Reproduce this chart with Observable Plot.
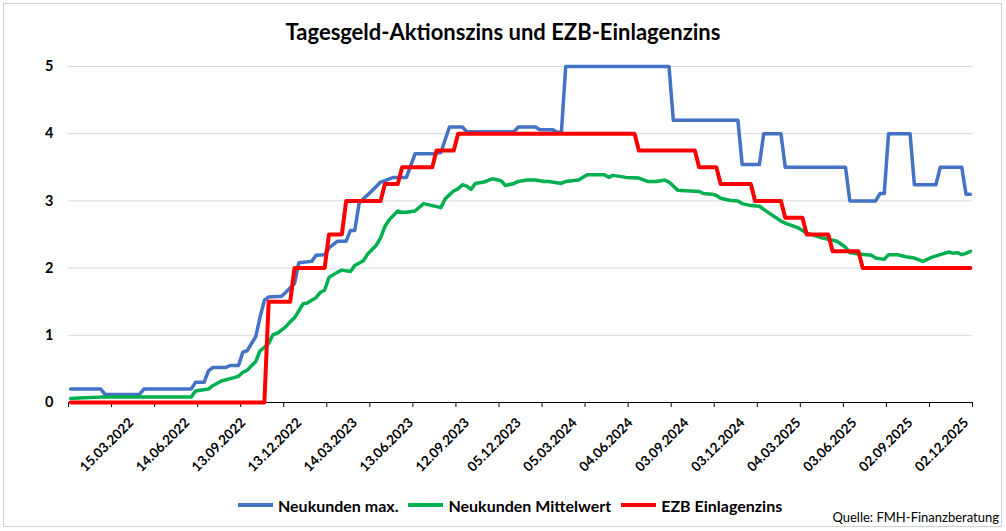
<!DOCTYPE html>
<html>
<head>
<meta charset="utf-8">
<script src="https://cdn.jsdelivr.net/npm/d3@7"></script>
<script src="https://cdn.jsdelivr.net/npm/@observablehq/plot@0.6"></script>
<style>
  html, body { margin: 0; padding: 0; background: #fff; }
  #frame { position: relative; width: 1006px; height: 531px; overflow: hidden; font-family: Lato, "Open Sans", sans-serif; color: #000; }
  #border { position: absolute; left: 3px; top: 3px; width: 999px; height: 524px; border: 1px solid #d0d0d0; box-sizing: border-box; }
  #title { position: absolute; left: 0; top: 16px; width: 1006px; text-align: center; font-size: 22px; font-weight: bold; line-height: 32px; }
  #chart { position: absolute; left: 0; top: 50px; }
  #legend { position: absolute; left: 238px; top: 494px; height: 22px; display: flex; align-items: center; font-size: 16px; font-weight: bold; }
  .item { display: flex; align-items: center; margin-right: 10px; }
  .sw { width: 35px; height: 4px; margin-right: 5px; }
  #caption { position: absolute; right: 7px; top: 508px; font-size: 13px; line-height: 18px; }
</style>
</head>
<body>
<div id="frame">
  <div id="border"></div>
  <div id="title">Tagesgeld-Aktionszins und EZB-Einlagenzins</div>
  <div id="chart"></div>
  <div id="legend"></div>
  <div id="caption">Quelle: FMH-Finanzberatung</div>
</div>
<script>
// ---- data ----
const seriesNames = ["Neukunden max.", "Neukunden Mittelwert", "EZB Einlagenzins"];
const seriesColors = ["#4472C4", "#00B050", "#FF0000"];

const tickLabels = ["15.03.2022","14.06.2022","13.09.2022","13.12.2022","14.03.2023","13.06.2023",
  "12.09.2023","05.12.2023","05.03.2024","04.06.2024","03.09.2024","03.12.2024","04.03.2025",
  "03.06.2025","02.09.2025","02.12.2025"];

const yTicks = [0, 1, 2, 3, 4, 5];

const neukundenMax = [
  ["2021-11-30",0.20],["2022-01-18",0.20],["2022-01-25",0.12],["2022-03-22",0.12],["2022-03-29",0.20],
  ["2022-06-14",0.20],["2022-06-21",0.30],["2022-07-05",0.30],["2022-07-12",0.47],["2022-07-19",0.52],
  ["2022-08-09",0.52],["2022-08-16",0.55],["2022-08-30",0.55],["2022-09-06",0.75],["2022-09-13",0.77],
  ["2022-09-27",0.98],["2022-10-04",1.27],["2022-10-11",1.52],["2022-10-18",1.57],["2022-11-08",1.58],
  ["2022-11-15",1.64],["2022-11-29",1.77],["2022-12-06",2.08],["2022-12-27",2.10],["2023-01-03",2.19],
  ["2023-01-17",2.20],["2023-01-24",2.30],["2023-02-07",2.40],["2023-02-21",2.40],["2023-02-28",2.56],
  ["2023-03-07",2.56],["2023-03-14",2.96],["2023-03-21",3.03],["2023-04-04",3.15],["2023-04-18",3.28],
  ["2023-04-25",3.30],["2023-05-09",3.35],["2023-05-30",3.35],["2023-06-13",3.70],["2023-07-11",3.70],
  ["2023-07-25",3.72],["2023-08-08",4.10],["2023-08-29",4.10],["2023-09-05",4.03],["2023-11-21",4.03],
  ["2023-11-28",4.10],["2023-12-26",4.10],["2024-01-02",4.06],["2024-01-23",4.06],["2024-01-30",4.02],
  ["2024-02-06",4.02],["2024-02-13",5.00],["2024-07-30",5.00],["2024-08-06",4.20],["2024-11-19",4.20],
  ["2024-11-26",3.54],["2024-12-24",3.54],["2024-12-31",4.00],["2025-01-28",4.00],["2025-02-04",3.50],
  ["2025-05-13",3.50],["2025-05-20",3.00],["2025-07-01",3.00],["2025-07-08",3.11],["2025-07-15",3.11],
  ["2025-07-22",4.00],["2025-08-26",4.00],["2025-09-02",3.24],["2025-10-07",3.24],["2025-10-14",3.50],
  ["2025-11-18",3.50],["2025-11-25",3.10],["2025-12-02",3.10]
];

const neukundenMittelwert = [
  ["2021-11-30",0.06],["2021-12-21",0.07],["2022-01-18",0.08],["2022-06-14",0.08],["2022-06-21",0.17],
  ["2022-07-12",0.20],["2022-07-19",0.25],["2022-08-02",0.32],["2022-08-23",0.37],["2022-08-30",0.39],
  ["2022-09-06",0.45],["2022-09-13",0.48],["2022-09-27",0.61],["2022-10-04",0.77],["2022-10-11",0.82],
  ["2022-10-18",0.88],["2022-10-25",1.01],["2022-11-01",1.03],["2022-11-15",1.13],["2022-11-22",1.20],
  ["2022-11-29",1.26],["2022-12-13",1.47],["2022-12-20",1.48],["2022-12-27",1.52],["2023-01-03",1.56],
  ["2023-01-10",1.64],["2023-01-17",1.67],["2023-01-24",1.86],["2023-02-07",1.94],["2023-02-14",1.97],
  ["2023-02-28",1.95],["2023-03-07",2.04],["2023-03-21",2.11],["2023-03-28",2.21],["2023-04-11",2.34],
  ["2023-04-18",2.45],["2023-04-25",2.62],["2023-05-02",2.72],["2023-05-16",2.85],["2023-05-23",2.83],
  ["2023-05-30",2.83],["2023-06-13",2.85],["2023-06-27",2.96],["2023-07-11",2.93],["2023-07-25",2.90],
  ["2023-08-01",3.03],["2023-08-15",3.15],["2023-08-22",3.18],["2023-08-29",3.24],["2023-09-05",3.22],
  ["2023-09-12",3.17],["2023-09-19",3.26],["2023-10-03",3.28],["2023-10-17",3.33],["2023-10-31",3.30],
  ["2023-11-07",3.23],["2023-11-21",3.26],["2023-11-28",3.29],["2023-12-12",3.31],["2023-12-26",3.31],
  ["2024-01-09",3.29],["2024-01-16",3.29],["2024-02-06",3.26],["2024-02-13",3.29],["2024-03-05",3.31],
  ["2024-03-19",3.39],["2024-04-16",3.39],["2024-04-23",3.35],["2024-04-30",3.38],["2024-05-21",3.35],
  ["2024-06-11",3.34],["2024-06-25",3.29],["2024-07-09",3.29],["2024-07-23",3.31],["2024-07-30",3.28],
  ["2024-08-13",3.16],["2024-08-27",3.15],["2024-09-17",3.14],["2024-09-24",3.11],["2024-10-08",3.10],
  ["2024-10-15",3.08],["2024-10-22",3.04],["2024-11-05",3.01],["2024-11-19",3.00],["2024-11-26",2.96],
  ["2024-12-10",2.93],["2024-12-24",2.92],["2025-01-07",2.83],["2025-01-28",2.70],["2025-02-04",2.67],
  ["2025-02-25",2.60],["2025-03-11",2.52],["2025-04-01",2.46],["2025-04-15",2.43],["2025-04-29",2.40],
  ["2025-05-13",2.31],["2025-05-20",2.23],["2025-06-03",2.21],["2025-06-24",2.19],["2025-07-01",2.15],
  ["2025-07-15",2.13],["2025-07-22",2.20],["2025-08-05",2.20],["2025-08-19",2.17],["2025-09-02",2.15],
  ["2025-09-16",2.10],["2025-09-30",2.16],["2025-10-14",2.20],["2025-10-28",2.24],["2025-11-04",2.22],
  ["2025-11-11",2.23],["2025-11-18",2.20],["2025-11-25",2.22],["2025-12-02",2.25]
];

const ezbEinlagenzins = [
  ["2021-11-30",0.00],["2022-10-11",0.00],["2022-10-18",1.50],["2022-11-22",1.50],["2022-11-29",2.00],
  ["2023-01-17",2.00],["2023-01-24",2.50],["2023-02-14",2.50],["2023-02-21",3.00],["2023-04-18",3.00],
  ["2023-04-25",3.25],["2023-05-16",3.25],["2023-05-23",3.50],["2023-07-11",3.50],["2023-07-18",3.75],
  ["2023-08-15",3.75],["2023-08-22",4.00],["2024-06-04",4.00],["2024-06-11",3.75],["2024-09-10",3.75],
  ["2024-09-17",3.50],["2024-10-15",3.50],["2024-10-22",3.25],["2024-12-10",3.25],["2024-12-17",3.00],
  ["2025-01-28",3.00],["2025-02-04",2.75],["2025-03-04",2.75],["2025-03-11",2.50],["2025-04-15",2.50],
  ["2025-04-22",2.25],["2025-06-03",2.25],["2025-06-10",2.00],["2025-12-02",2.00]
];

// ---- build ----
const toRows = (arr) => arr.map(([d, v]) => ({date: new Date(d), value: v}));
const parseDE = (s) => { const [d, m, y] = s.split(".").map(Number); return new Date(Date.UTC(y, m - 1, d)); };
const labelDates = tickLabels.map(parseDE);

const xStart = new Date(Date.UTC(2021, 10, 26, 12));
const xEnd = new Date(Date.UTC(2025, 11, 5, 12));
const tickMarks = d3.range(22).map(k => new Date(+xStart + k * 70 * 864e5));
const fmtDE = d3.utcFormat("%d.%m.%Y");

const chart = Plot.plot({
  width: 1006,
  height: 440,
  marginLeft: 68,
  marginRight: 34,
  marginTop: 16,
  marginBottom: 88,
  style: {fontFamily: "Lato, 'Open Sans', sans-serif", color: "#000", background: "transparent"},
  x: {type: "utc", domain: [xStart, xEnd]},
  y: {domain: [0, 5]},
  marks: [
    Plot.gridY(yTicks.filter(t => t > 0), {stroke: "#d9d9d9", strokeOpacity: 1, strokeWidth: 1}),
    Plot.axisY({ticks: yTicks, tickSize: 0, tickPadding: 15, tickFormat: d => String(d), label: null,
                fontSize: 14.5, fontWeight: "bold"}),
    Plot.ruleY([0], {stroke: "#000", strokeWidth: 1}),
    Plot.axisX({ticks: tickMarks, tickSize: 5, tickFormat: () => "", label: null, stroke: "#000"}),
    Plot.axisX({ticks: labelDates, tickSize: 0, tickPadding: 18, dx: -4, tickRotate: -45, tickFormat: fmtDE,
                label: null, fontSize: 13.5, fontWeight: "bold"}),
    Plot.line(toRows(neukundenMax), {x: "date", y: "value", stroke: seriesColors[0], strokeWidth: 3.5,
                strokeLinejoin: "round", strokeLinecap: "round"}),
    Plot.line(toRows(neukundenMittelwert), {x: "date", y: "value", stroke: seriesColors[1], strokeWidth: 3.5,
                strokeLinejoin: "round", strokeLinecap: "round"}),
    Plot.line(toRows(ezbEinlagenzins), {x: "date", y: "value", stroke: seriesColors[2], strokeWidth: 4,
                strokeLinejoin: "round", strokeLinecap: "round"})
  ]
});
document.getElementById("chart").appendChild(chart);

const legend = document.getElementById("legend");
seriesNames.forEach((name, i) => {
  const item = document.createElement("div");
  item.className = "item";
  const sw = document.createElement("div");
  sw.className = "sw";
  sw.style.background = seriesColors[i];
  const t = document.createElement("span");
  t.textContent = name;
  item.appendChild(sw);
  item.appendChild(t);
  legend.appendChild(item);
});
</script>
</body>
</html>
